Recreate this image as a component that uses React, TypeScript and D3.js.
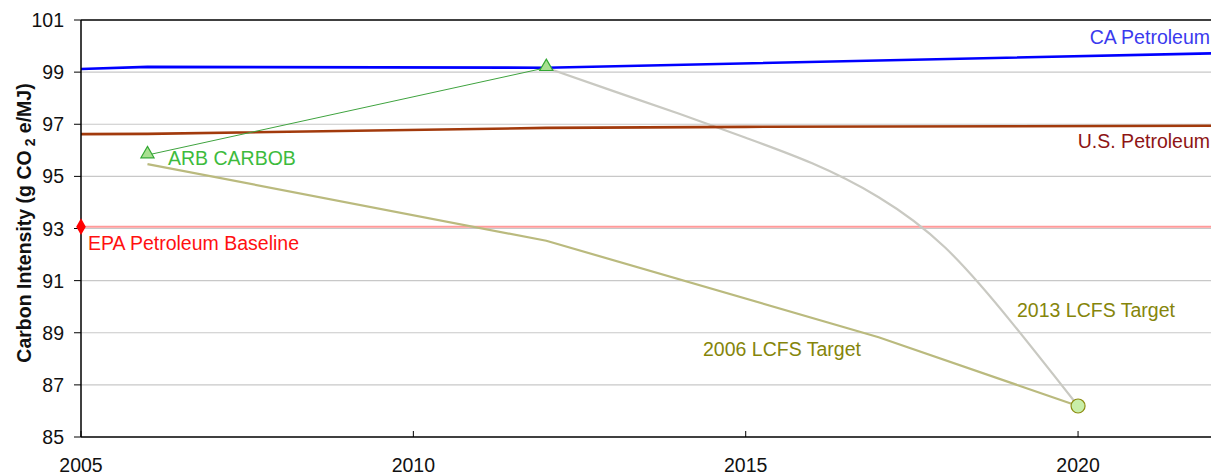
import React from "react";
import * as d3 from "d3";

const W = 1211;
const H = 475;

const yTicks = [85, 87, 89, 91, 93, 95, 97, 99, 101];
const xTicks = [2005, 2010, 2015, 2020];

const caYears = [2005, 2006, 2012, 2022];
const caValues = [99.12, 99.2, 99.17, 99.72];

const usYears = [2005, 2006, 2012, 2015, 2022];
const usValues = [96.62, 96.63, 96.86, 96.9, 96.94];

const epaYears = [2005, 2022];
const epaValues = [93.07, 93.07];

const arbYears = [2006, 2012];
const arbValues = [95.82, 99.17];

const lcfs2006Years = [2006, 2012, 2017, 2020];
const lcfs2006Values = [95.47, 92.53, 88.83, 86.19];

const lcfs2013Years = [2012, 2013, 2014, 2015, 2016, 2017, 2018, 2019, 2020];
const lcfs2013Values = [99.17, 98.28, 97.4, 96.48, 95.5, 94.2, 92.27, 89.4, 86.19];

const yTitleParts = ["Carbon Intensity (g CO", "2", " e/MJ)"];

const M = { left: 81, right: 0, top: 20, bottom: 38 };

export default function App() {
  const x = d3.scaleLinear().domain([2005, 2022]).range([M.left, W - M.right]);
  const y = d3.scaleLinear().domain([85, 101]).range([H - M.bottom, M.top]);

  const mk = (xs: number[], vs: number[], curve: d3.CurveFactory = d3.curveLinear) =>
    d3
      .line<number>()
      .x((_, i) => x(xs[i]))
      .y((v) => y(v))
      .curve(curve)(vs) as string;

  const font = "'Liberation Sans', Arial, sans-serif";
  const fs = 19.5;
  const tri = d3.symbol().type(d3.symbolTriangle).size(75)() as string;
  const dia = d3.symbol().type(d3.symbolDiamond).size(80)() as string;

  const lastX = x(2022);

  return (
    <svg
      width={W}
      height={H}
      style={{ position: "absolute", left: 0, top: 0, background: "#fff" }}
      fontFamily={font}
    >
      {/* gridlines */}
      {yTicks
        .filter((t) => t !== 85 && t !== 101)
        .map((t) => (
          <line key={t} x1={M.left} x2={lastX} y1={y(t)} y2={y(t)} stroke="#c8c8c8" strokeWidth={1.2} />
        ))}

      {/* EPA baseline */}
      <path d={mk(epaYears, epaValues)} fill="none" stroke="#ff9a9a" strokeWidth={2} />

      {/* 2006 LCFS target */}
      <path d={mk(lcfs2006Years, lcfs2006Values)} fill="none" stroke="#baba7e" strokeWidth={2.2} />

      {/* 2013 LCFS target */}
      <path
        d={mk(lcfs2013Years, lcfs2013Values, d3.curveNatural)}
        fill="none"
        stroke="#c9c9c2"
        strokeWidth={2.2}
      />

      {/* US petroleum */}
      <path d={mk(usYears, usValues)} fill="none" stroke="#a23a0c" strokeWidth={2.6} />

      {/* CA petroleum */}
      <path d={mk(caYears, caValues)} fill="none" stroke="#0000ff" strokeWidth={2.6} />

      {/* ARB CARBOB */}
      <path d={mk(arbYears, arbValues)} fill="none" stroke="#3fa33f" strokeWidth={1} />
      {arbYears.map((yr, i) => (
        <path
          key={yr}
          d={tri}
          transform={`translate(${x(yr)},${y(arbValues[i]) - 1})`}
          fill="#a8e090"
          stroke="#33a833"
          strokeWidth={1.2}
        />
      ))}

      {/* 2020 target marker */}
      <circle
        cx={x(2020)}
        cy={y(lcfs2006Values[lcfs2006Values.length - 1])}
        r={7}
        fill="#c8eea8"
        stroke="#8c8c10"
        strokeWidth={1.2}
      />

      {/* axes */}
      <line x1={M.left} x2={lastX} y1={M.top} y2={M.top} stroke="#000" strokeWidth={1.5} />
      <line x1={M.left} x2={M.left} y1={M.top} y2={y(85)} stroke="#000" strokeWidth={1.5} />
      <line x1={M.left} x2={lastX} y1={y(85)} y2={y(85)} stroke="#000" strokeWidth={1.5} />

      {yTicks.map((t) => (
        <g key={t}>
          <line x1={M.left - 7} x2={M.left} y1={y(t)} y2={y(t)} stroke="#000" strokeWidth={1} />
          <text x={64} y={y(t)} dy="0.36em" textAnchor="end" fontSize={fs} fill="#111">
            {t}
          </text>
        </g>
      ))}
      {xTicks.map((t) => (
        <g key={t}>
          <line x1={x(t)} x2={x(t)} y1={y(85)} y2={y(85) - 6} stroke="#000" strokeWidth={1} />
          <text x={x(t)} y={472} textAnchor="middle" fontSize={fs} fill="#111">
            {t}
          </text>
        </g>
      ))}

      {/* EPA marker */}
      <path d={dia} transform={`translate(${x(2005)},${y(epaValues[0])})`} fill="#ff0000" />

      {/* labels */}
      <text x={1210} y={44} textAnchor="end" fontSize={fs} fill="#3a3aee">
        CA Petroleum
      </text>
      <text x={1210} y={148} textAnchor="end" fontSize={fs} fill="#8e1414">
        U.S. Petroleum
      </text>
      <text x={168} y={165} fontSize={fs} fill="#3dbb3d">
        ARB CARBOB
      </text>
      <text x={88} y={250} fontSize={fs} fill="#ff1010">
        EPA Petroleum Baseline
      </text>
      <text x={703} y={356} fontSize={fs} fill="#85850a">
        2006 LCFS Target
      </text>
      <text x={1017} y={317} fontSize={fs} fill="#85850a">
        2013 LCFS Target
      </text>

      {/* y title */}
      <text
        transform={`translate(31,223) rotate(-90)`}
        textAnchor="middle"
        fontSize={19.5}
        fontWeight="bold"
        fill="#111"
      >
        {yTitleParts[0]}
        <tspan fontSize={14} dy={4} dx={4}>
          {yTitleParts[1]}
        </tspan>
        <tspan dy={-4}>{yTitleParts[2]}</tspan>
      </text>
    </svg>
  );
}
